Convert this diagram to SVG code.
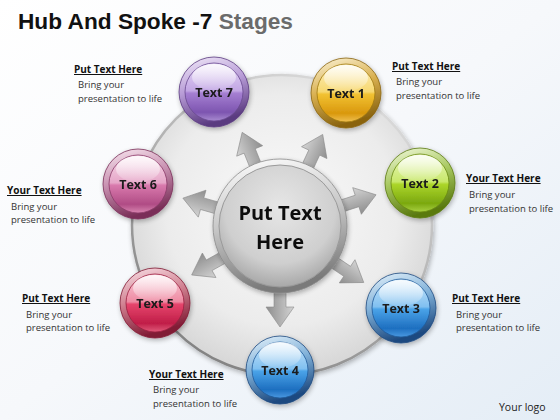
<svg xmlns="http://www.w3.org/2000/svg" width="560" height="420" viewBox="0 0 560 420">
<defs>
<style>
.title{font-family:"Liberation Sans",Arial,sans-serif;font-weight:bold;font-size:22px;fill:#111}
.hd{font-family:"Open Sans","Liberation Sans",sans-serif;font-weight:bold;font-size:10px;fill:#111;text-decoration:underline}
.bd{font-family:"Open Sans","Liberation Sans",sans-serif;font-size:9.5px;fill:#333}
.nl{font-family:"Open Sans","Liberation Sans",sans-serif;font-weight:bold;font-size:12.5px;fill:#1a1a1a;text-anchor:middle}
.hub{font-family:"Open Sans","Liberation Sans",sans-serif;font-weight:bold;font-size:20px;fill:#111;text-anchor:middle}
.arrow{fill:url(#gArrow);stroke:#8a8a8a;stroke-width:0.6}
.hl{fill:url(#gHi)}
</style>
<linearGradient id="gBg" x1="0" y1="0" x2="1" y2="1">
<stop offset="0" stop-color="#ffffff"/><stop offset="0.5" stop-color="#f6f8fb"/><stop offset="1" stop-color="#e4edf6"/>
</linearGradient>
<radialGradient id="gDisc" cx="0.5" cy="0.45" r="0.55">
<stop offset="0" stop-color="#fafafa"/><stop offset="0.7" stop-color="#ececec"/><stop offset="1" stop-color="#d6d6d6"/>
</radialGradient>
<linearGradient id="gDiscEdge" x1="0.8" y1="0" x2="0.2" y2="1">
<stop offset="0" stop-color="#e0e0e0"/><stop offset="1" stop-color="#7d7d7d"/>
</linearGradient>
<linearGradient id="gArrow" x1="0" y1="0" x2="0" y2="1">
<stop offset="0" stop-color="#d4d4d4"/><stop offset="0.5" stop-color="#b0b0b0"/><stop offset="1" stop-color="#8e8e8e"/>
</linearGradient>
<linearGradient id="gHubRing" x1="0" y1="0" x2="0.2" y2="1">
<stop offset="0" stop-color="#ffffff"/><stop offset="0.5" stop-color="#c8c8c8"/><stop offset="1" stop-color="#7a7a7a"/>
</linearGradient>
<radialGradient id="gHubFill" cx="0.5" cy="0.35" r="0.65">
<stop offset="0" stop-color="#e6e6e6"/><stop offset="0.7" stop-color="#cfcfcf"/><stop offset="1" stop-color="#a8a8a8"/>
</radialGradient>
<linearGradient id="gHi" x1="0" y1="0" x2="0" y2="1">
<stop offset="0" stop-color="#ffffff" stop-opacity="0.85"/><stop offset="1" stop-color="#ffffff" stop-opacity="0.1"/>
</linearGradient>
<linearGradient id="sPurple" x1="0" y1="0" x2="0" y2="1"><stop offset="0" stop-color="#e4d6f4"/><stop offset="0.48" stop-color="#c2a6e4"/><stop offset="0.52" stop-color="#a57fd2"/><stop offset="0.85" stop-color="#7d55b0"/><stop offset="1" stop-color="#a88ad0"/></linearGradient>
<linearGradient id="rPurple" x1="0" y1="0" x2="0.3" y2="1"><stop offset="0" stop-color="#f3ecfa"/><stop offset="0.5" stop-color="#b79bd6"/><stop offset="1" stop-color="#5a3a80"/></linearGradient>
<linearGradient id="sYellow" x1="0" y1="0" x2="0" y2="1"><stop offset="0" stop-color="#fcefc0"/><stop offset="0.48" stop-color="#f7d870"/><stop offset="0.52" stop-color="#f2c232"/><stop offset="0.85" stop-color="#d9980e"/><stop offset="1" stop-color="#efc050"/></linearGradient>
<linearGradient id="rYellow" x1="0" y1="0" x2="0.3" y2="1"><stop offset="0" stop-color="#fdf6dc"/><stop offset="0.5" stop-color="#d9b050"/><stop offset="1" stop-color="#8a6410"/></linearGradient>
<linearGradient id="sGreen" x1="0" y1="0" x2="0" y2="1"><stop offset="0" stop-color="#eaf7c0"/><stop offset="0.48" stop-color="#c8e86a"/><stop offset="0.52" stop-color="#acd62a"/><stop offset="0.85" stop-color="#7ba810"/><stop offset="1" stop-color="#a8d040"/></linearGradient>
<linearGradient id="rGreen" x1="0" y1="0" x2="0.3" y2="1"><stop offset="0" stop-color="#f4fbe0"/><stop offset="0.5" stop-color="#a8c860"/><stop offset="1" stop-color="#5a7a10"/></linearGradient>
<linearGradient id="sBlue" x1="0" y1="0" x2="0" y2="1"><stop offset="0" stop-color="#cbe6fa"/><stop offset="0.48" stop-color="#80c0f0"/><stop offset="0.52" stop-color="#4aa3e8"/><stop offset="0.85" stop-color="#1e6fc0"/><stop offset="1" stop-color="#4a98e0"/></linearGradient>
<linearGradient id="rBlue" x1="0" y1="0" x2="0.3" y2="1"><stop offset="0" stop-color="#e8f4fc"/><stop offset="0.5" stop-color="#7fb0d8"/><stop offset="1" stop-color="#1e4a80"/></linearGradient>
<linearGradient id="sPink" x1="0" y1="0" x2="0" y2="1"><stop offset="0" stop-color="#f6dbe9"/><stop offset="0.48" stop-color="#e6a6c8"/><stop offset="0.52" stop-color="#d97aad"/><stop offset="0.85" stop-color="#b04c85"/><stop offset="1" stop-color="#d884b0"/></linearGradient>
<linearGradient id="rPink" x1="0" y1="0" x2="0.3" y2="1"><stop offset="0" stop-color="#faeaf2"/><stop offset="0.5" stop-color="#c890b0"/><stop offset="1" stop-color="#7a2f58"/></linearGradient>
<linearGradient id="sRed" x1="0" y1="0" x2="0" y2="1"><stop offset="0" stop-color="#f9cdd8"/><stop offset="0.48" stop-color="#ee8aa2"/><stop offset="0.52" stop-color="#e6456c"/><stop offset="0.85" stop-color="#c01e48"/><stop offset="1" stop-color="#e05a7a"/></linearGradient>
<linearGradient id="rRed" x1="0" y1="0" x2="0.3" y2="1"><stop offset="0" stop-color="#fbe4ea"/><stop offset="0.5" stop-color="#d08090"/><stop offset="1" stop-color="#801a34"/></linearGradient>
<filter id="sh" x="-20%" y="-20%" width="140%" height="140%"><feGaussianBlur in="SourceAlpha" stdDeviation="2.5"/><feOffset dx="1" dy="2"/><feComponentTransfer><feFuncA type="linear" slope="0.3"/></feComponentTransfer><feMerge><feMergeNode/><feMergeNode in="SourceGraphic"/></feMerge></filter>
</defs>

<rect x="0" y="0" width="560" height="420" fill="url(#gBg)"/>

<text class="title" x="18" y="29" textLength="275" lengthAdjust="spacingAndGlyphs">Hub And Spoke -7 <tspan fill="#6b6b6b">Stages</tspan></text>

<g id="disc" filter="url(#sh)">
<circle cx="282" cy="225" r="150" fill="url(#gDisc)" stroke="url(#gDiscEdge)" stroke-width="2.5"/>
</g>

<g id="connectors">
<path class="arrow" transform="rotate(248 280 226)" d="M340 220 L361 220 L361 212 L381 226 L361 240 L361 232 L340 232 Z"/>
<path class="arrow" transform="rotate(295 280 226)" d="M340 220 L361 220 L361 212 L381 226 L361 240 L361 232 L340 232 Z"/>
<path class="arrow" transform="rotate(342 280 226)" d="M340 220 L361 220 L361 212 L381 226 L361 240 L361 232 L340 232 Z"/>
<path class="arrow" transform="rotate(34 280 226)" d="M340 220 L361 220 L361 212 L381 226 L361 240 L361 232 L340 232 Z"/>
<path class="arrow" transform="rotate(90 280 226)" d="M340 220 L361 220 L361 212 L381 226 L361 240 L361 232 L340 232 Z"/>
<path class="arrow" transform="rotate(151 280 226)" d="M340 220 L361 220 L361 212 L381 226 L361 240 L361 232 L340 232 Z"/>
<path class="arrow" transform="rotate(196 280 226)" d="M340 220 L361 220 L361 212 L381 226 L361 240 L361 232 L340 232 Z"/>
</g>

<g id="hub" filter="url(#sh)">
<circle cx="280" cy="226" r="67" fill="url(#gHubRing)" stroke="#8a8a8a" stroke-width="0.8"/>
<circle cx="280" cy="226" r="61" fill="url(#gHubFill)" stroke="#9a9a9a" stroke-width="1"/>
<text class="hub" x="280" y="220">Put Text</text>
<text class="hub" x="280" y="249">Here</text>
</g>

<g id="node7" filter="url(#sh)">
<circle cx="214" cy="92" r="35" fill="url(#rPurple)" stroke="#5a3a80" stroke-width="0.8"/>
<circle cx="214" cy="92" r="29" fill="url(#sPurple)" stroke="#6a4a90" stroke-width="0.8"/>
<ellipse class="hl" cx="214" cy="77" rx="22" ry="13"/>
<text class="nl" x="214" y="97">Text 7</text>
</g>
<g id="node1" filter="url(#sh)">
<circle cx="346" cy="93" r="35" fill="url(#rYellow)" stroke="#8a6410" stroke-width="0.8"/>
<circle cx="346" cy="93" r="29" fill="url(#sYellow)" stroke="#a07a10" stroke-width="0.8"/>
<ellipse class="hl" cx="346" cy="78" rx="22" ry="13"/>
<text class="nl" x="346" y="98">Text 1</text>
</g>
<g id="node2" filter="url(#sh)">
<circle cx="420" cy="183" r="35" fill="url(#rGreen)" stroke="#5a7a10" stroke-width="0.8"/>
<circle cx="420" cy="183" r="29" fill="url(#sGreen)" stroke="#6a8a10" stroke-width="0.8"/>
<ellipse class="hl" cx="420" cy="168" rx="22" ry="13"/>
<text class="nl" x="420" y="188">Text 2</text>
</g>
<g id="node3" filter="url(#sh)">
<circle cx="401" cy="308" r="35" fill="url(#rBlue)" stroke="#1e4a80" stroke-width="0.8"/>
<circle cx="401" cy="308" r="29" fill="url(#sBlue)" stroke="#205a9a" stroke-width="0.8"/>
<ellipse class="hl" cx="401" cy="293" rx="22" ry="13"/>
<text class="nl" x="401" y="313">Text 3</text>
</g>
<g id="node4" filter="url(#sh)">
<circle cx="280" cy="370" r="34" fill="url(#rBlue)" stroke="#1e4a80" stroke-width="0.8"/>
<circle cx="280" cy="370" r="28" fill="url(#sBlue)" stroke="#205a9a" stroke-width="0.8"/>
<ellipse class="hl" cx="280" cy="355" rx="21" ry="13"/>
<text class="nl" x="280" y="375">Text 4</text>
</g>
<g id="node5" filter="url(#sh)">
<circle cx="155" cy="303" r="35" fill="url(#rRed)" stroke="#801a34" stroke-width="0.8"/>
<circle cx="155" cy="303" r="29" fill="url(#sRed)" stroke="#9a2040" stroke-width="0.8"/>
<ellipse class="hl" cx="155" cy="288" rx="22" ry="13"/>
<text class="nl" x="155" y="308">Text 5</text>
</g>
<g id="node6" filter="url(#sh)">
<circle cx="138" cy="184" r="35" fill="url(#rPink)" stroke="#7a2f58" stroke-width="0.8"/>
<circle cx="138" cy="184" r="29" fill="url(#sPink)" stroke="#8a3a68" stroke-width="0.8"/>
<ellipse class="hl" cx="138" cy="169" rx="22" ry="13"/>
<text class="nl" x="138" y="189">Text 6</text>
</g>

<g id="label7"><text class="hd" x="74" y="73">Put Text Here</text><text class="bd" x="78" y="88">Bring your</text><text class="bd" x="78" y="102">presentation to life</text></g>
<g id="label1"><text class="hd" x="392" y="70">Put Text Here</text><text class="bd" x="396" y="85">Bring your</text><text class="bd" x="396" y="99">presentation to life</text></g>
<g id="label2"><text class="hd" x="466" y="182">Your  Text Here</text><text class="bd" x="469" y="198">Bring your</text><text class="bd" x="469" y="212">presentation to life</text></g>
<g id="label6"><text class="hd" x="7" y="194">Your  Text Here</text><text class="bd" x="11" y="210">Bring your</text><text class="bd" x="11" y="223">presentation to life</text></g>
<g id="label3"><text class="hd" x="452" y="302">Put Text Here</text><text class="bd" x="456" y="318">Bring your</text><text class="bd" x="456" y="331">presentation to life</text></g>
<g id="label5"><text class="hd" x="22" y="302">Put Text Here</text><text class="bd" x="26" y="318">Bring your</text><text class="bd" x="26" y="331">presentation to life</text></g>
<g id="label4"><text class="hd" x="149" y="378">Your  Text Here</text><text class="bd" x="153" y="393">Bring your</text><text class="bd" x="153" y="407">presentation to life</text></g>

<text class="bd" x="499" y="411" style="font-size:10.5px;fill:#222">Your  logo</text>
</svg>
